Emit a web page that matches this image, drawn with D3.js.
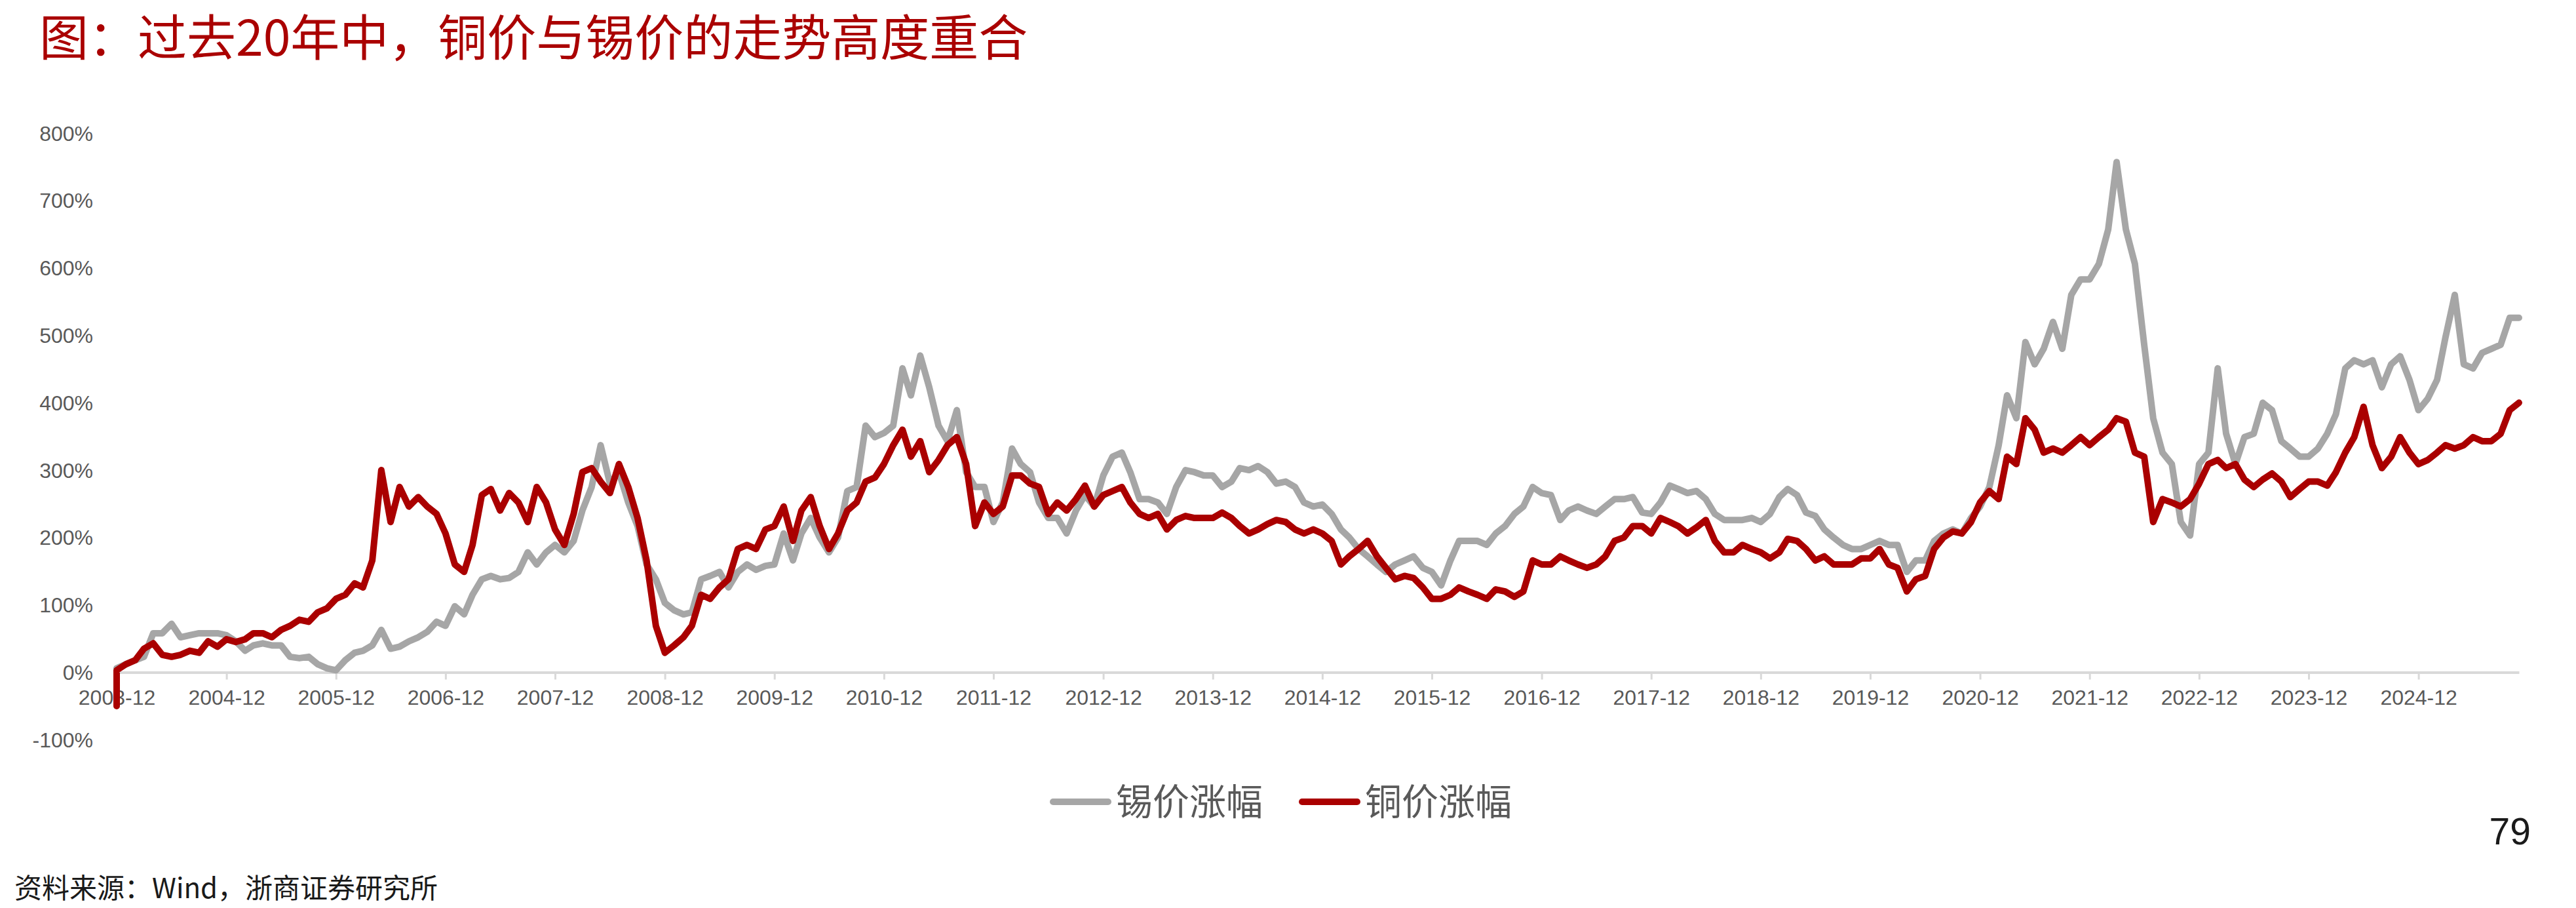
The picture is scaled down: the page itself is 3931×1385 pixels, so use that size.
<!DOCTYPE html>
<html>
<head>
<meta charset="utf-8">
<script src="https://cdn.jsdelivr.net/npm/d3@7"></script>
<style>
  html, body { margin: 0; padding: 0; background: #fff; }
  svg { display: block; }
  .cjk { font-family: "Noto Sans CJK SC", "Noto Sans", sans-serif; }
  .num { font-family: "Liberation Sans", Arial, sans-serif; }
</style>
</head>
<body>
<svg id="chart"></svg>
<script>
// monthly series, first month 2003-12, last 2025-11
const startMonth = "2003-12";
const endMonth = "2025-11";
const yTicks = [-100, 0, 100, 200, 300, 400, 500, 600, 700, 800];
const xTickLabels = ["2003-12","2004-12","2005-12","2006-12","2007-12","2008-12","2009-12",
  "2010-12","2011-12","2012-12","2013-12","2014-12","2015-12","2016-12","2017-12",
  "2018-12","2019-12","2020-12","2021-12","2022-12","2023-12","2024-12"];

// copper starts with a one-off dip on the first day
const copperFirst = -50;

// 锡价涨幅 (%), monthly
const tinValues = [
  6,12,18,23,58,58,72,52,55,58,58,58,
  55,46,32,40,43,40,40,23,21,23,12,6,
  3,18,29,32,40,63,35,38,46,52,60,75,
  69,98,86,115,138,143,138,140,149,178,160,178,
  189,178,195,240,275,337,280,297,252,217,160,138,
  103,92,86,89,138,143,149,126,149,160,152,158,
  160,206,166,206,229,200,178,200,269,275,366,349,
  355,366,451,411,470,423,366,343,389,297,275,275,
  223,252,332,309,297,252,229,229,206,240,263,246,
  292,320,326,297,257,257,252,235,275,300,297,292,
  292,275,283,303,300,306,297,280,283,275,252,246,
  249,235,212,200,183,172,160,149,160,166,172,155,
  149,129,166,195,195,195,189,206,217,235,246,275,
  266,263,226,240,246,240,235,246,257,257,260,237,
  235,252,277,272,266,269,257,235,226,226,226,229,
  223,235,260,272,263,237,232,212,200,189,183,183,
  189,195,189,189,149,166,166,195,206,212,206,229,
  246,275,337,411,377,490,457,480,520,480,560,583,
  583,606,657,757,657,606,486,377,326,309,223,203,
  309,326,451,354,309,349,354,400,389,343,332,320,
  320,332,354,383,451,463,457,463,423,457,469,434,
  389,406,434,497,560,457,451,474,480,486,526,526
];

// 铜价涨幅 (%), monthly
const copperValues = [
  3,12,18,35,43,26,23,26,32,29,46,38,
  49,45,49,58,58,52,63,69,78,75,89,95,
  109,115,132,126,166,300,223,275,246,260,246,235,
  206,160,149,189,263,272,240,266,252,223,275,252,
  212,189,235,297,303,283,266,309,275,229,166,69,
  29,40,52,69,115,109,126,138,183,189,183,212,
  217,246,195,240,260,217,183,206,240,252,283,289,
  309,337,360,320,343,297,315,337,349,309,217,252,
  235,246,292,292,280,275,235,252,240,257,277,246,
  263,269,275,252,235,229,235,212,226,232,229,229,
  229,237,229,217,206,212,220,226,223,212,206,212,
  206,195,160,172,183,195,172,155,138,143,140,126,
  109,109,115,126,120,115,109,123,120,112,120,166,
  160,160,172,166,160,155,160,172,195,200,217,217,
  206,229,223,217,206,215,226,195,178,178,189,183,
  178,169,178,198,195,183,166,172,160,160,160,169,
  169,183,160,155,120,138,143,183,200,209,206,223,
  252,269,257,320,309,377,360,326,332,326,337,349,
  337,349,360,377,372,326,320,223,257,252,246,257,
  280,309,315,303,309,286,275,286,295,283,260,272,
  283,283,277,297,326,349,394,337,303,320,349,326,
  309,315,326,337,332,337,349,343,343,354,389,400
];

const seriesNames = ["锡价涨幅", "铜价涨幅"];
const seriesColors = ["#A6A6A6", "#AA0000"];

const W = 3931, H = 1385;
const svg = d3.select("#chart").attr("width", W).attr("height", H);

const parseMonth = d3.timeParse("%Y-%m");
const months = d3.timeMonth.range(parseMonth(startMonth), d3.timeMonth.offset(parseMonth(endMonth), 1));

const x = d3.scaleTime()
  .domain([parseMonth(startMonth), parseMonth(endMonth)])
  .range([178, 3844]);

const y = d3.scaleLinear()
  .domain([-100, 800])
  .range([1128.3, 203.1]);

// title
svg.append("text")
  .attr("class", "cjk")
  .attr("x", 60)
  .attr("y", 85)
  .attr("font-size", 75)
  .attr("fill", "#AA0000")
  .text("图：过去20年中，铜价与锡价的走势高度重合");

// y labels (no axis line)
svg.append("g")
  .selectAll("text")
  .data(yTicks)
  .enter()
  .append("text")
  .attr("class", "num")
  .attr("x", 142)
  .attr("y", d => y(d))
  .attr("dy", "0.36em")
  .attr("text-anchor", "end")
  .attr("font-size", 32)
  .attr("fill", "#595959")
  .text(d => d + "%");

// x axis sits on 0%
const xAxis = d3.axisBottom(x)
  .tickValues(xTickLabels.map(parseMonth))
  .tickFormat(d3.timeFormat("%Y-%m"))
  .tickSizeInner(11)
  .tickSizeOuter(0)
  .tickPadding(16);

const gx = svg.append("g")
  .attr("transform", `translate(0,${y(0)})`)
  .call(xAxis);
gx.select(".domain").attr("stroke", "#D9D9D9").attr("stroke-width", 4);
gx.selectAll(".tick line").attr("stroke", "#D9D9D9").attr("stroke-width", 3);
gx.selectAll(".tick text")
  .attr("class", "num")
  .attr("font-size", 32)
  .attr("fill", "#595959");

// lines, tin first so copper sits on top
const line = d3.line()
  .x(d => x(d[0]))
  .y(d => y(d[1]));

const tinPts = months.map((m, i) => [m, tinValues[i]]);
const copperPts = [[months[0], copperFirst]].concat(months.map((m, i) => [m, copperValues[i]]));

[tinPts, copperPts].forEach((pts, i) => {
  svg.append("path")
    .datum(pts)
    .attr("fill", "none")
    .attr("stroke", seriesColors[i])
    .attr("stroke-width", 10)
    .attr("stroke-linejoin", "round")
    .attr("stroke-linecap", "round")
    .attr("d", line);
});

// legend
const legendX = [1607, 1987];
const legend = svg.append("g");
seriesNames.forEach((name, i) => {
  legend.append("line")
    .attr("x1", legendX[i]).attr("x2", legendX[i] + 84)
    .attr("y1", 1223).attr("y2", 1223)
    .attr("stroke", seriesColors[i])
    .attr("stroke-width", 10)
    .attr("stroke-linecap", "round");
  legend.append("text")
    .attr("class", "cjk")
    .attr("x", legendX[i] + 96)
    .attr("y", 1243)
    .attr("font-size", 56)
    .attr("fill", "#595959")
    .text(name);
});

// page number
svg.append("text")
  .attr("class", "num")
  .attr("x", 3862)
  .attr("y", 1288)
  .attr("text-anchor", "end")
  .attr("font-size", 57)
  .attr("fill", "#1a1a1a")
  .text("79");

// source
svg.append("text")
  .attr("class", "cjk")
  .attr("x", 22)
  .attr("y", 1370)
  .attr("font-size", 42)
  .attr("fill", "#1a1a1a")
  .text("资料来源：Wind，浙商证券研究所");
</script>
</body>
</html>
